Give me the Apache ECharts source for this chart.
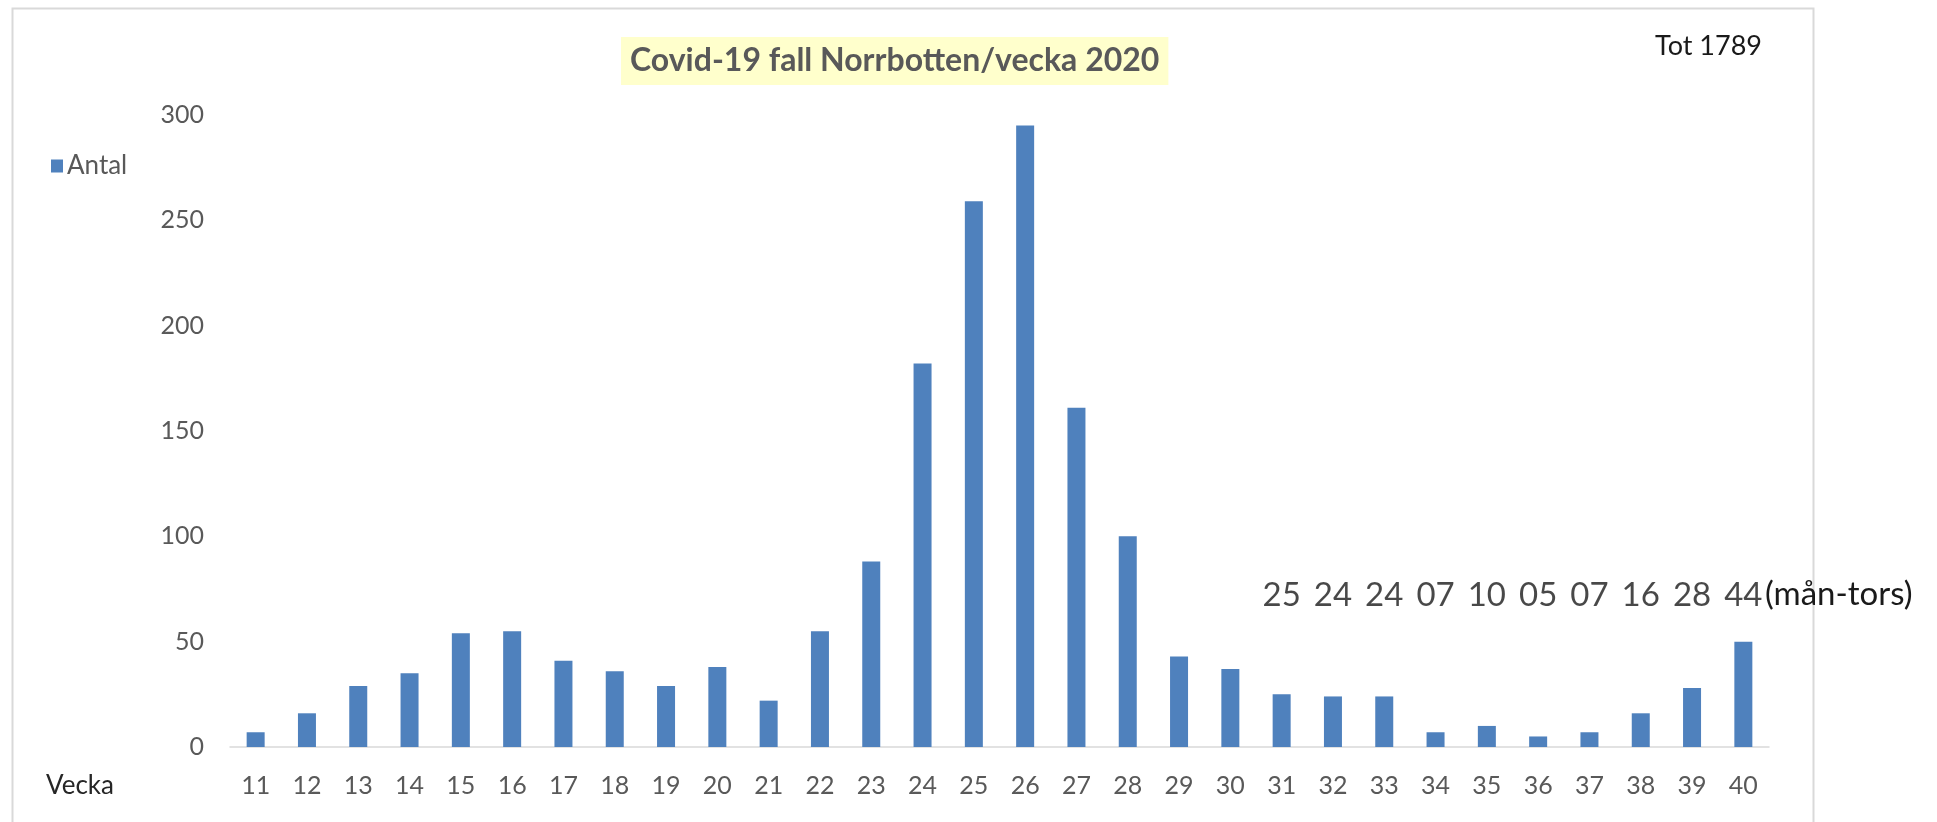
<!DOCTYPE html>
<html>
<head>
<meta charset="utf-8">
<script src="https://cdn.jsdelivr.net/npm/echarts@6/dist/echarts.min.js"></script>
<style>
  html, body { margin: 0; padding: 0; background: #fff; }
  #chart { width: 1937px; height: 822px; }
</style>
</head>
<body>
<div id="chart"></div>
<script>
// veckor 11-40
const weeks = ['11', '12', '13', '14', '15', '16', '17', '18', '19', '20',
  '21', '22', '23', '24', '25', '26', '27', '28', '29', '30',
  '31', '32', '33', '34', '35', '36', '37', '38', '39', '40']
const antal = [7, 16, 29, 35, 54, 55, 41, 36, 29, 38,
  22, 55, 88, 182, 259, 295, 161, 100, 43, 37,
  25, 24, 24, 7, 10, 5, 7, 16, 28, 50]
// text over the last weeks
const noteWeeks = ['31', '32', '33', '34', '35', '36', '37', '38', '39', '40']
const noteText = ['25', '24', '24', '07', '10', '05', '07', '16', '28', '44']
const noteLevel = 72

const font = 'Lato, "Open Sans", sans-serif'
const myChart = echarts.init(document.getElementById('chart'))
const option = {
  animation: false,
  textStyle: { fontFamily: font },
  title: {
    text: 'Covid-19 fall Norrbotten/vecka 2020',
    left: 621,
    top: 37,
    padding: [8, 9],
    backgroundColor: '#FFFFCC',
    textStyle: { fontFamily: font, fontWeight: 'bold', fontSize: 32, color: '#595959' }
  },
  legend: {
    left: 46,
    top: 148,
    icon: 'rect',
    itemWidth: 12,
    itemHeight: 13,
    itemGap: 6,
    data: ['Antal'],
    textStyle: { fontFamily: font, fontSize: 26, color: '#595959', padding: [0, 0, 0, -1] }
  },
  grid: {
    left: 230,
    right: 168,
    top: 115,
    bottom: 75
  },
  xAxis: {
    type: 'category',
    data: weeks,
    axisTick: { show: false },
    axisLine: { lineStyle: { color: '#d9d9d9', width: 1.5 } },
    axisLabel: { fontFamily: font, fontSize: 25, color: '#595959', margin: 26 }
  },
  yAxis: {
    type: 'value',
    min: 0,
    max: 300,
    interval: 50,
    splitLine: { show: false },
    axisLine: { show: false },
    axisTick: { show: false },
    axisLabel: { fontFamily: font, fontSize: 25, color: '#595959', margin: 26 }
  },
  series: [
    {
      name: 'Antal',
      type: 'bar',
      data: antal,
      barWidth: 18,
      itemStyle: { color: '#4F81BD' }
    },
    {
      type: 'scatter',
      symbolSize: 0,
      silent: true,
      data: noteWeeks.map((w, i) => [w, noteLevel, noteText[i]]),
      label: {
        show: true,
        position: 'inside',
        formatter: p => p.data[2],
        fontFamily: font,
        fontSize: 33,
        color: '#1a1a1a'
      }
    }
  ],
  graphic: [
    {
      type: 'rect',
      left: 10,
      top: 6,
      shape: { width: 1801, height: 830 },
      style: { fill: 'none', stroke: '#d9d9d9', lineWidth: 2 },
      silent: true
    },
    {
      type: 'text',
      left: 1655,
      top: 33,
      style: { text: 'Tot 1789', fontFamily: font, fontSize: 27, fill: '#1a1a1a' }
    },
    {
      type: 'text',
      left: 1765,
      top: 578,
      style: { text: '(mån-tors)', fontFamily: font, fontSize: 33, fill: '#1a1a1a' }
    },
    {
      type: 'text',
      left: 46,
      top: 773,
      style: { text: 'Vecka', fontFamily: font, fontSize: 26, fill: '#262626' }
    }
  ]
}
option && myChart.setOption(option)
</script>
</body>
</html>
